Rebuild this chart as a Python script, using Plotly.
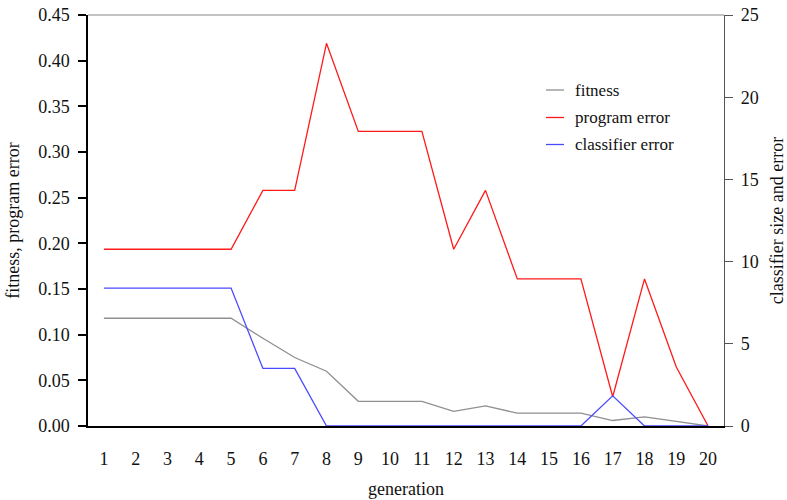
import plotly.graph_objects as go

generation = list(range(1, 21))
fitness = [0.118, 0.118, 0.118, 0.118, 0.118, 0.096, 0.075, 0.060, 0.027, 0.027,
           0.027, 0.016, 0.022, 0.014, 0.014, 0.014, 0.006, 0.010, 0.005, 0.000]
program_error = [0.1935, 0.1935, 0.1935, 0.1935, 0.1935, 0.258, 0.258, 0.419, 0.3226, 0.3226,
                 0.3226, 0.1935, 0.258, 0.161, 0.161, 0.161, 0.032, 0.161, 0.0645, 0.000]
classifier_error = [0.151, 0.151, 0.151, 0.151, 0.151, 0.063, 0.063, 0.0, 0.0, 0.0,
                    0.0, 0.0, 0.0, 0.0, 0.0, 0.0, 0.033, 0.0, 0.0, 0.0]
left_ticks = [0.0, 0.05, 0.10, 0.15, 0.20, 0.25, 0.30, 0.35, 0.40, 0.45]
right_ticks = [0, 5, 10, 15, 20, 25]

series = [("fitness", fitness, "#8f8f8f"),
          ("program error", program_error, "#ff1a1a"),
          ("classifier error", classifier_error, "#4a4aff")]

FONT = "Liberation Serif, Times New Roman, serif"
fig = go.Figure()
for name, vals, col in series:
    fig.add_trace(go.Scatter(x=generation, y=vals, mode="lines", name=name,
                             line=dict(color=col, width=1.3), showlegend=False,
                             cliponaxis=False))
# invisible trace to anchor the right axis
fig.add_trace(go.Scatter(x=[generation[0]], y=[right_ticks[0]], yaxis="y2", mode="markers",
                         marker=dict(opacity=0), showlegend=False, hoverinfo="skip"))

# custom legend
leg_y = [0.8175, 0.7506, 0.6849]
for (name, vals, col), yy in zip(series, leg_y):
    fig.add_shape(type="line", xref="paper", yref="paper", x0=0.7201, x1=0.7484, y0=yy, y1=yy,
                  line=dict(color=col, width=1.3))
    fig.add_annotation(x=0.7626, y=yy, xref="paper", yref="paper", text=name, showarrow=False,
                       xanchor="left", yanchor="middle", font=dict(family=FONT, size=17, color="#111"))

fig.add_shape(type="line", xref="paper", yref="paper", x0=0, x1=1, y0=1, y1=1,
              line=dict(color="#888", width=1.2))

fig.update_layout(
    width=787, height=500,
    margin=dict(l=88, r=63, t=15, b=74, autoexpand=False),
    paper_bgcolor="white", plot_bgcolor="white",
    font=dict(family=FONT, size=18, color="#111"),
    xaxis=dict(range=[0.5, 20.5], tickmode="array", tickvals=generation,
               ticktext=[str(g) for g in generation], ticks="", showgrid=False, zeroline=False,
               showline=True, linecolor="#000", linewidth=1.5, mirror=False, automargin=False,
               ticklabelstandoff=16, tickfont=dict(family=FONT, size=18),
               title=dict(text="generation", standoff=14, font=dict(family=FONT, size=18))),
    yaxis=dict(range=[0, 0.45], tickmode="array", tickvals=left_ticks,
               ticktext=[f"{v:.2f}" for v in left_ticks], ticks="outside", ticklen=8,
               tickcolor="#000", tickwidth=1.5, showgrid=False, zeroline=False,
               showline=True, linecolor="#000", linewidth=1.5, automargin=False,
               ticklabelstandoff=5, tickfont=dict(family=FONT, size=18),
               title=dict(text="fitness, program error", standoff=14,
                          font=dict(family=FONT, size=18))),
    yaxis2=dict(range=[0, 25], overlaying="y", side="right", tickmode="array",
                tickvals=right_ticks, ticks="outside", ticklen=8, tickcolor="#555",
                showgrid=False, zeroline=False, showline=True, linecolor="#555", linewidth=1.2,
                automargin=False, ticklabelstandoff=4, tickfont=dict(family=FONT, size=18),
                title=dict(text="classifier size and error", standoff=18,
                           font=dict(family=FONT, size=18))),
)
fig.write_html("out.html")
